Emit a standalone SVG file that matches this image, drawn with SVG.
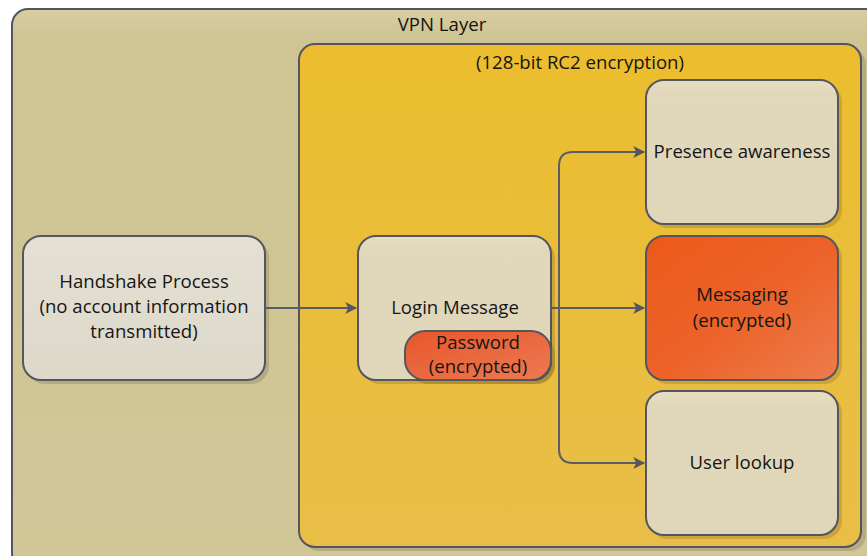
<svg xmlns="http://www.w3.org/2000/svg" width="867" height="556" viewBox="0 0 867 556">
<defs>
<style>
.t{font-family:"Open Sans","Noto Sans","Liberation Sans",sans-serif;font-size:18.6px;fill:#151515;text-anchor:middle}
.b{stroke:#545560;stroke-width:2}
.c{fill:none;stroke:#5a5c68;stroke-width:2}
.sh{fill:#000;opacity:0.13}
</style>
<linearGradient id="gOut" x1="0" y1="0" x2="0" y2="1"><stop offset="0" stop-color="#d8cea2"/><stop offset="0.05" stop-color="#cfc493"/><stop offset="1" stop-color="#d0c697"/></linearGradient>
<linearGradient id="gY" x1="0" y1="0" x2="0" y2="1"><stop offset="0" stop-color="#ecbd2e"/><stop offset="1" stop-color="#e8be48"/></linearGradient>
<linearGradient id="gL" x1="0" y1="0" x2="0" y2="1"><stop offset="0" stop-color="#e8dfc0"/><stop offset="0.1" stop-color="#e1d8bc"/><stop offset="1" stop-color="#e0d7ba"/></linearGradient>
<linearGradient id="gH" x1="0" y1="0" x2="0" y2="1"><stop offset="0" stop-color="#e4e1d4"/><stop offset="1" stop-color="#dcd8ca"/></linearGradient>
<linearGradient id="gO" x1="0" y1="0" x2="1" y2="1"><stop offset="0" stop-color="#ec5a1a"/><stop offset="0.5" stop-color="#ec6228"/><stop offset="1" stop-color="#ec7c4c"/></linearGradient>
<linearGradient id="gP" x1="0" y1="0" x2="1" y2="1"><stop offset="0" stop-color="#e8562a"/><stop offset="1" stop-color="#ec7a52"/></linearGradient>
<marker id="ar" viewBox="0 0 10 10" refX="9" refY="5" markerWidth="13" markerHeight="12" markerUnits="userSpaceOnUse" orient="auto"><path d="M0,0 L10,5 L0,10 L2.5,5 z" fill="#555662"/></marker>
</defs>

<g id="vpn-layer">
<rect x="12" y="9" width="870" height="560" rx="16" fill="url(#gOut)" class="b"/>
<text class="t" x="442" y="31">VPN Layer</text>
</g>

<g id="encryption-layer">
<rect x="303" y="48" width="563" height="503" rx="16" class="sh"/>
<rect x="299" y="44" width="562" height="503" rx="16" fill="url(#gY)" class="b"/>
<text class="t" x="580" y="69">(128-bit RC2 encryption)</text>
</g>

<g id="handshake">
<rect x="27" y="240" width="242" height="144" rx="18" class="sh"/>
<rect x="23" y="236" width="242" height="144" rx="18" fill="url(#gH)" class="b"/>
<text class="t" x="144" y="288">Handshake Process</text>
<text class="t" x="144" y="313">(no account information</text>
<text class="t" x="144" y="338">transmitted)</text>
</g>

<g id="login-message">
<rect x="362" y="240" width="193" height="144" rx="18" class="sh"/>
<rect x="358" y="236" width="193" height="144" rx="18" fill="url(#gL)" class="b"/>
<text class="t" x="455" y="314">Login Message</text>
</g>

<g id="password">
<rect x="409" y="335" width="146" height="49" rx="20" class="sh"/>
<rect x="405" y="331" width="146" height="49" rx="20" fill="url(#gP)" class="b"/>
<text class="t" x="478" y="349">Password</text>
<text class="t" x="478" y="373">(encrypted)</text>
</g>

<g id="presence">
<rect x="650" y="84" width="192" height="144" rx="18" class="sh"/>
<rect x="646" y="80" width="192" height="144" rx="18" fill="url(#gL)" class="b"/>
<text class="t" x="742" y="158">Presence awareness</text>
</g>

<g id="messaging">
<rect x="650" y="240" width="192" height="144" rx="18" class="sh"/>
<rect x="646" y="236" width="192" height="144" rx="18" fill="url(#gO)" class="b"/>
<text class="t" x="742" y="301">Messaging</text>
<text class="t" x="742" y="327">(encrypted)</text>
</g>

<g id="user-lookup">
<rect x="650" y="395" width="192" height="144" rx="18" class="sh"/>
<rect x="646" y="391" width="192" height="144" rx="18" fill="url(#gL)" class="b"/>
<text class="t" x="742" y="469">User lookup</text>
</g>

<g id="connectors">
<path class="c" d="M265,308 H356" marker-end="url(#ar)"/>
<path class="c" d="M551,308 H644" marker-end="url(#ar)"/>
<path class="c" d="M551,308 H559 V166 Q559,152 573,152 H644" marker-end="url(#ar)"/>
<path class="c" d="M559,308 V449 Q559,463 573,463 H644" marker-end="url(#ar)"/>
</g>
</svg>
